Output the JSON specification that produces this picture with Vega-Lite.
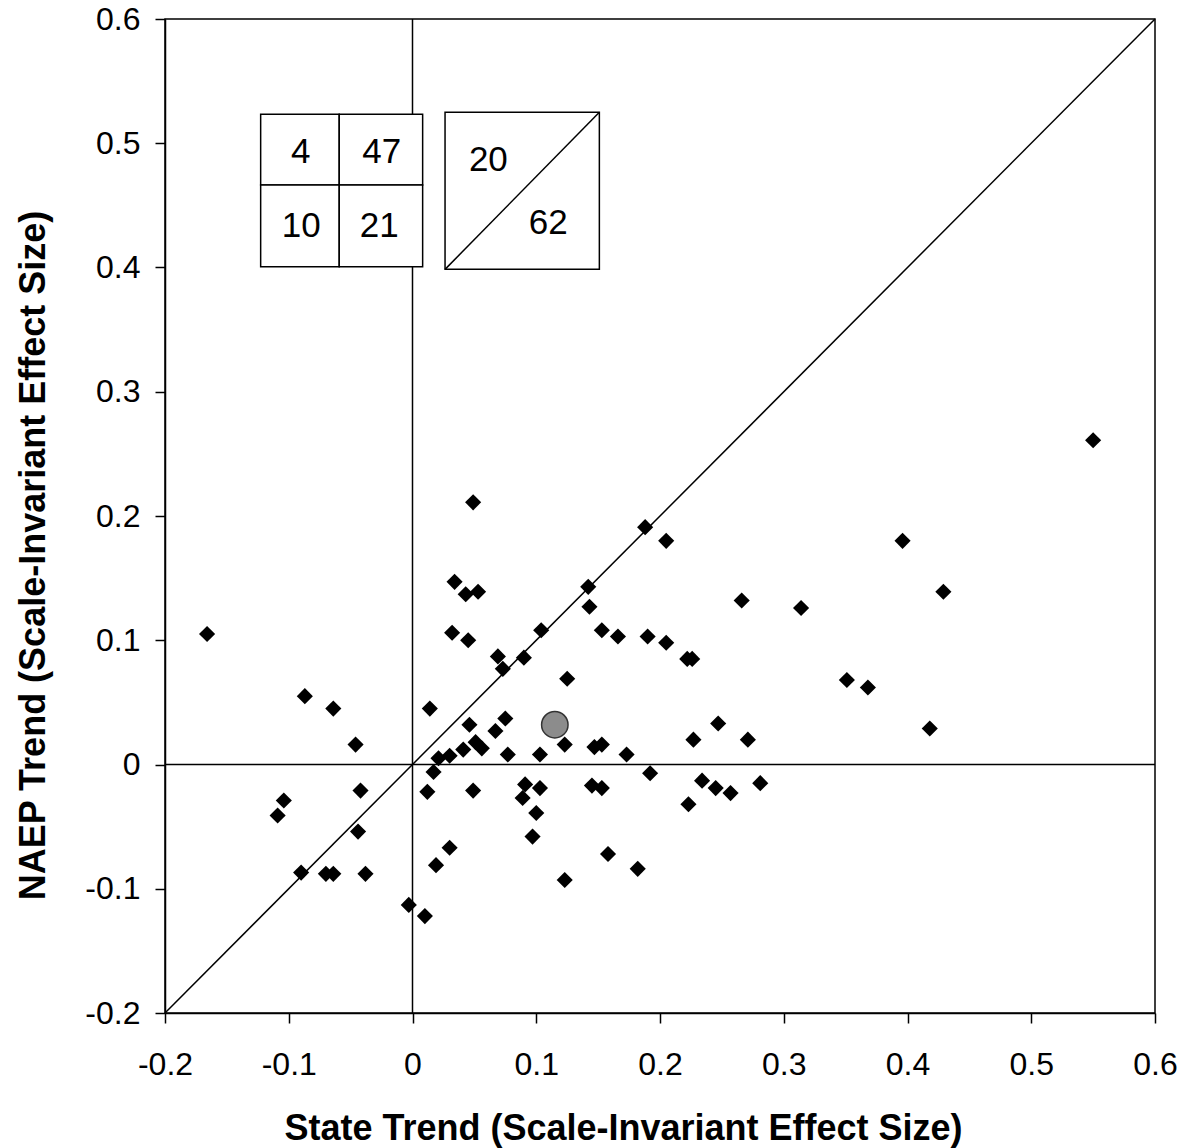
{
  "$schema": "https://vega.github.io/schema/vega-lite/v6.json",
  "autosize": {"type": "none"},
  "width": 990,
  "height": 994,
  "padding": {"left": 165, "top": 19, "right": 29, "bottom": 135},
  "background": "white",
  "config": {
    "view": {"stroke": "#000", "strokeWidth": 1.5},
    "font": "Liberation Sans"
  },
  "datasets": {
    "pts": [
      {"state": -0.166, "naep": 0.105}, {"state": -0.087, "naep": 0.055}, {"state": -0.064, "naep": 0.045},
      {"state": -0.046, "naep": 0.016}, {"state": -0.042, "naep": -0.021}, {"state": -0.104, "naep": -0.029},
      {"state": -0.109, "naep": -0.041}, {"state": -0.044, "naep": -0.054}, {"state": -0.090, "naep": -0.087},
      {"state": -0.070, "naep": -0.088}, {"state": -0.064, "naep": -0.088}, {"state": -0.038, "naep": -0.088},
      {"state": -0.003, "naep": -0.113}, {"state": 0.010, "naep": -0.122}, {"state": 0.014, "naep": 0.045},
      {"state": 0.049, "naep": 0.211}, {"state": 0.034, "naep": 0.147}, {"state": 0.043, "naep": 0.137},
      {"state": 0.053, "naep": 0.139}, {"state": 0.032, "naep": 0.106}, {"state": 0.045, "naep": 0.100},
      {"state": 0.046, "naep": 0.032}, {"state": 0.051, "naep": 0.018}, {"state": 0.056, "naep": 0.013},
      {"state": 0.041, "naep": 0.012}, {"state": 0.030, "naep": 0.007}, {"state": 0.021, "naep": 0.005},
      {"state": 0.017, "naep": -0.006}, {"state": 0.012, "naep": -0.022}, {"state": 0.049, "naep": -0.021},
      {"state": 0.030, "naep": -0.067}, {"state": 0.019, "naep": -0.081}, {"state": 0.188, "naep": 0.191},
      {"state": 0.205, "naep": 0.180}, {"state": 0.142, "naep": 0.143}, {"state": 0.143, "naep": 0.127},
      {"state": 0.153, "naep": 0.108}, {"state": 0.166, "naep": 0.103}, {"state": 0.190, "naep": 0.103},
      {"state": 0.205, "naep": 0.098}, {"state": 0.222, "naep": 0.085}, {"state": 0.226, "naep": 0.085},
      {"state": 0.104, "naep": 0.108}, {"state": 0.090, "naep": 0.086}, {"state": 0.069, "naep": 0.087},
      {"state": 0.073, "naep": 0.077}, {"state": 0.125, "naep": 0.069}, {"state": 0.075, "naep": 0.037},
      {"state": 0.067, "naep": 0.027}, {"state": 0.123, "naep": 0.016}, {"state": 0.077, "naep": 0.008},
      {"state": 0.103, "naep": 0.008}, {"state": 0.147, "naep": 0.014}, {"state": 0.153, "naep": 0.016},
      {"state": 0.173, "naep": 0.008}, {"state": 0.227, "naep": 0.020}, {"state": 0.247, "naep": 0.033},
      {"state": 0.192, "naep": -0.007}, {"state": 0.091, "naep": -0.016}, {"state": 0.103, "naep": -0.019},
      {"state": 0.089, "naep": -0.027}, {"state": 0.100, "naep": -0.039}, {"state": 0.097, "naep": -0.058},
      {"state": 0.123, "naep": -0.093}, {"state": 0.158, "naep": -0.072}, {"state": 0.182, "naep": -0.084},
      {"state": 0.145, "naep": -0.017}, {"state": 0.153, "naep": -0.019}, {"state": 0.271, "naep": 0.020},
      {"state": 0.234, "naep": -0.013}, {"state": 0.245, "naep": -0.019}, {"state": 0.257, "naep": -0.023},
      {"state": 0.223, "naep": -0.032}, {"state": 0.281, "naep": -0.015}, {"state": 0.550, "naep": 0.261},
      {"state": 0.396, "naep": 0.180}, {"state": 0.429, "naep": 0.139}, {"state": 0.266, "naep": 0.132},
      {"state": 0.314, "naep": 0.126}, {"state": 0.351, "naep": 0.068}, {"state": 0.368, "naep": 0.062},
      {"state": 0.418, "naep": 0.029}
    ],
    "mean": [{"state": 0.115, "naep": 0.032}],
    "cells": [
      {"x0": -0.1227, "x1": -0.0592, "y0": 0.4664, "y1": 0.5233},
      {"x0": -0.0592, "x1": 0.0082, "y0": 0.4664, "y1": 0.5233},
      {"x0": -0.1227, "x1": -0.0592, "y0": 0.4006, "y1": 0.4664},
      {"x0": -0.0592, "x1": 0.0082, "y0": 0.4006, "y1": 0.4664},
      {"x0": 0.0263, "x1": 0.151, "y0": 0.3985, "y1": 0.525}
    ],
    "diag": [
      {"x0": -0.2, "y0": -0.2, "x1": 0.6, "y1": 0.6},
      {"x0": 0.0263, "y0": 0.3985, "x1": 0.151, "y1": 0.525}
    ],
    "labels": [
      {"x": -0.0903, "y": 0.4926, "t": "4"},
      {"x": -0.0249, "y": 0.4926, "t": "47"},
      {"x": -0.0899, "y": 0.4336, "t": "10"},
      {"x": -0.0269, "y": 0.4336, "t": "21"},
      {"x": 0.0613, "y": 0.4865, "t": "20"},
      {"x": 0.1097, "y": 0.4356, "t": "62"}
    ],
    "zero": [{"v": 0}]
  },
  "layer": [
    {
      "data": {"name": "zero"},
      "mark": {"type": "rule", "color": "#000", "strokeWidth": 1.5},
      "encoding": {
        "x": {"field": "v", "type": "quantitative",
          "scale": {"domain": [-0.2, 0.6], "nice": false, "zero": false},
          "axis": {
            "title": "State Trend (Scale-Invariant Effect Size)",
            "values": [-0.2, -0.1, 0, 0.1, 0.2, 0.3, 0.4, 0.5, 0.6],
            "labelExpr": "'' + datum.value",
            "grid": false, "domainColor": "#000", "domainWidth": 1.5,
            "tickColor": "#000", "tickWidth": 1.5, "tickSize": 10,
            "labelFont": "Liberation Sans", "labelFontSize": 32, "labelColor": "#000",
            "labelPadding": 26, "labelFlush": false,
            "titleFont": "Liberation Sans", "titleFontSize": 36, "titleFontWeight": "bold",
            "titleColor": "#000", "titleX": 458, "titleY": 115, "titleBaseline": "middle", "titleAlign": "center"
          }
        }
      }
    },
    {
      "data": {"name": "zero"},
      "mark": {"type": "rule", "color": "#000", "strokeWidth": 1.5},
      "encoding": {
        "y": {"field": "v", "type": "quantitative",
          "scale": {"domain": [-0.2, 0.6], "nice": false, "zero": false},
          "axis": {
            "title": "NAEP Trend (Scale-Invariant Effect Size)",
            "values": [-0.2, -0.1, 0, 0.1, 0.2, 0.3, 0.4, 0.5, 0.6],
            "labelExpr": "'' + datum.value",
            "grid": false, "domainColor": "#000", "domainWidth": 1.5,
            "tickColor": "#000", "tickWidth": 1.5, "tickSize": 10,
            "labelFont": "Liberation Sans", "labelFontSize": 32, "labelColor": "#000",
            "labelPadding": 15, "labelFlush": false,
            "titleFont": "Liberation Sans", "titleFontSize": 36, "titleFontWeight": "bold",
            "titleColor": "#000", "titleX": -132, "titleY": 536, "titleBaseline": "middle", "titleAlign": "center"
          }
        }
      }
    },
    {
      "data": {"name": "diag"},
      "transform": [{"filter": "datum.x0 < -0.1"}],
      "mark": {"type": "rule", "color": "#000", "strokeWidth": 1.5},
      "encoding": {
        "x": {"field": "x0", "type": "quantitative"},
        "y": {"field": "y0", "type": "quantitative"},
        "x2": {"field": "x1"},
        "y2": {"field": "y1"}
      }
    },
    {
      "data": {"name": "cells"},
      "mark": {"type": "rect", "fill": "white", "stroke": "#000", "strokeWidth": 1.5},
      "encoding": {
        "x": {"field": "x0", "type": "quantitative"},
        "x2": {"field": "x1"},
        "y": {"field": "y0", "type": "quantitative"},
        "y2": {"field": "y1"}
      }
    },
    {
      "data": {"name": "diag"},
      "transform": [{"filter": "datum.x0 > 0"}],
      "mark": {"type": "rule", "color": "#000", "strokeWidth": 1.5},
      "encoding": {
        "x": {"field": "x0", "type": "quantitative"},
        "y": {"field": "y0", "type": "quantitative"},
        "x2": {"field": "x1"},
        "y2": {"field": "y1"}
      }
    },
    {
      "data": {"name": "labels"},
      "mark": {"type": "text", "font": "Liberation Sans", "fontSize": 35, "color": "#000", "align": "center", "baseline": "middle"},
      "encoding": {
        "x": {"field": "x", "type": "quantitative"},
        "y": {"field": "y", "type": "quantitative"},
        "text": {"field": "t"}
      }
    },
    {
      "data": {"name": "pts"},
      "mark": {"type": "point", "shape": "diamond", "filled": true, "color": "#000", "size": 260, "opacity": 1},
      "encoding": {
        "x": {"field": "state", "type": "quantitative"},
        "y": {"field": "naep", "type": "quantitative"}
      }
    },
    {
      "data": {"name": "mean"},
      "mark": {"type": "point", "shape": "circle", "filled": true, "fill": "#8c8c8c", "stroke": "#333", "strokeWidth": 1.5, "size": 700, "opacity": 1},
      "encoding": {
        "x": {"field": "state", "type": "quantitative"},
        "y": {"field": "naep", "type": "quantitative"}
      }
    }
  ]
}
